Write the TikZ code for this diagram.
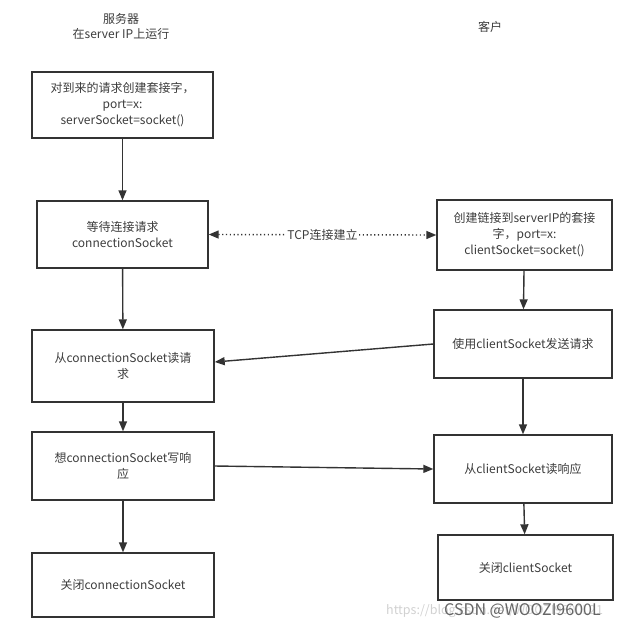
\documentclass[tikz,border=0pt]{standalone}
\usepackage{fontspec}
\setmainfont{Noto Sans CJK SC}
\usepackage{tikz}
\usetikzlibrary{arrows.meta}
\definecolor{linegray}{RGB}{51,51,51}
\definecolor{textgray}{RGB}{60,60,60}

\begin{document}
\begin{tikzpicture}[x=1pt, y=-1pt,
            box/.style={shape=rectangle, draw=linegray, line width=1.4pt, align=center,
                        text=textgray, inner sep=0pt, font=\fontsize{12}{16}\selectfont},
            flow/.style={draw=linegray, line width=1.4pt, -{Triangle[length=10pt,width=8pt]}},
            tcp/.style={draw=linegray, line width=1.4pt, dash pattern=on 1.2pt off 2.6pt,
                        {Triangle[length=10pt,width=8pt]}-{Triangle[length=10pt,width=8pt]}},
            title/.style={align=center, text=textgray, font=\fontsize{12}{15}\selectfont}]
        \useasboundingbox (0,0) rectangle (636,630);

        % titles
        \node[title] (srvtitle) at (121,26) {服务器\\在server IP上运行};
        \node[title] (clititle) at (490,27) {客户};

        % server side
        \node[box, minimum width=181pt, minimum height=66pt] (srvsock) at (122.5,105)
            {对到来的请求创建套接字，\\port=x:\\serverSocket=socket()};
        \node[box, minimum width=171pt, minimum height=67pt] (wait) at (122.5,234.5)
            {等待连接请求\\connectionSocket};
        \node[box, minimum width=182pt, minimum height=72pt] (readreq) at (123,366)
            {从connectionSocket读请\\求};
        \node[box, minimum width=182pt, minimum height=68pt] (writeresp) at (123,466)
            {想connectionSocket写响\\应};
        \node[box, minimum width=182pt, minimum height=64pt] (srvclose) at (123,585)
            {关闭connectionSocket};

        % client side
        \node[box, minimum width=175pt, minimum height=70pt] (clisock) at (524.5,235)
            {创建链接到serverIP的套接\\字，port=x:\\clientSocket=socket()};
        \node[box, minimum width=178pt, minimum height=68pt] (sendreq) at (523,344)
            {使用clientSocket发送请求};
        \node[box, minimum width=178pt, minimum height=68pt] (readresp) at (523,469)
            {从clientSocket读响应};
        \node[box, minimum width=175pt, minimum height=65pt] (cliclose) at (525.5,567.5)
            {关闭clientSocket};

        \draw[flow] (srvsock) -- (wait);
        \draw[flow] (wait) -- (readreq);
        \draw[flow] (readreq) -- (writeresp);
        \draw[flow] (writeresp) -- (srvclose);

        \draw[flow] (clisock) -- (sendreq);
        \draw[flow] (sendreq) -- (readresp);
        \draw[flow] (readresp) -- (cliclose);

        \draw[tcp] (wait.east) -- node[fill=white, inner sep=1pt, text=textgray,
            font=\fontsize{12}{14}\selectfont] {TCP连接建立} (clisock.west);
        \draw[flow] (sendreq.west) -- ([yshift=4pt]readreq.east);
        \draw[flow] (writeresp.east) -- (readresp.west);

        % watermark
        \node[anchor=west, text=black!18, inner sep=0pt, font=\fontsize{12.5}{13}\selectfont] (url) at (386,611)
            {https://blog.csdn.net/WOOZI9600L21};
        \node[anchor=west, text=black!60, inner sep=0pt, font=\fontsize{16}{16}\selectfont] (csdn) at (444,611)
            {CSDN @WOOZI9600L};
\end{tikzpicture}
\end{document}
